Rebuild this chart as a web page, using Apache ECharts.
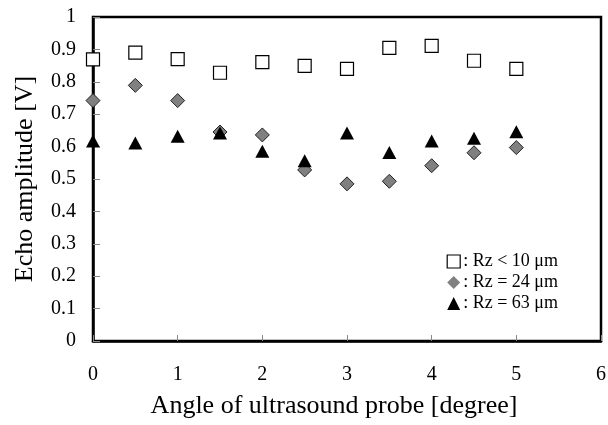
<!DOCTYPE html>
<html>
<head>
<meta charset="utf-8">
<script src="https://cdn.jsdelivr.net/npm/echarts@6/dist/echarts.min.js"></script>
<style>
html,body{margin:0;padding:0;background:#fff;}
#chart{width:608px;height:425px;}
</style>
</head>
<body>
<div id="chart"></div>
<script>
const angles = [0, 0.5, 1, 1.5, 2, 2.5, 3, 3.5, 4, 4.5, 5];
const rz10 = [0.869, 0.89, 0.87, 0.828, 0.861, 0.849, 0.84, 0.905, 0.911, 0.865, 0.84];
const rz24 = [0.742, 0.789, 0.742, 0.645, 0.636, 0.528, 0.485, 0.493, 0.541, 0.581, 0.597];
const rz63 = [0.617, 0.611, 0.632, 0.642, 0.586, 0.556, 0.642, 0.582, 0.617, 0.626, 0.646];
const seriesNames = [': Rz < 10 \u03bcm', ': Rz = 24 \u03bcm', ': Rz = 63 \u03bcm'];
const xTitle = 'Angle of ultrasound probe [degree]';
const yTitle = 'Echo amplitude [V]';

const pairs = arr => angles.map((a, i) => [a, arr[i]]);
const font = 'Liberation Serif';

const chart = echarts.init(document.getElementById('chart'), null, {renderer: 'canvas'});
chart.setOption({
  animation: false,
  backgroundColor: '#fff',
  grid: {left: 93, top: 17, right: 7, bottom: 84, containLabel: false, outerBoundsMode: 'none',
         show: true, borderColor: '#000', borderWidth: 2.5, backgroundColor: 'transparent'},
  legend: {
    orient: 'vertical', right: 50, top: 251, padding: 0, itemWidth: 13, itemHeight: 13, itemGap: 0,
    textStyle: {fontFamily: font, fontSize: 18, color: '#000', lineHeight: 21, padding: [0, 0, 0, -2]},
    data: [
      {name: seriesNames[0], itemStyle: {color: '#fff', borderColor: '#000', borderWidth: 1.2}},
      {name: seriesNames[1], itemStyle: {color: '#808080', borderColor: '#808080', borderWidth: 0}},
      {name: seriesNames[2]}
    ]
  },
  xAxis: {
    type: 'value', min: 0, max: 6, interval: 1,
    name: xTitle, nameLocation: 'middle', nameGap: 52,
    nameTextStyle: {fontFamily: font, fontSize: 26, color: '#000', padding: [0, 26, 0, 0]},
    axisLine: {show: true, lineStyle: {color: '#000', width: 2.5}},
    axisTick: {show: true, inside: true, length: 6, lineStyle: {color: '#888', width: 1}},
    axisLabel: {fontFamily: font, fontSize: 20, color: '#000', margin: 24},
    splitLine: {show: false}
  },
  yAxis: {
    type: 'value', min: 0, max: 1, interval: 0.1,
    name: yTitle, nameLocation: 'middle', nameGap: 55, nameRotate: 90,
    nameTextStyle: {fontFamily: font, fontSize: 26, color: '#000'},
    axisLine: {show: true, lineStyle: {color: '#000', width: 2.5}},
    axisTick: {show: true, inside: true, length: 7, lineStyle: {color: '#888', width: 1}},
    axisLabel: {fontFamily: font, fontSize: 20, color: '#000', margin: 17},
    splitLine: {show: false}
  },
  series: [
    {name: seriesNames[0], type: 'scatter', data: pairs(rz10), symbol: 'rect', symbolSize: 13,
     itemStyle: {color: '#fff', borderColor: '#000', borderWidth: 1.2, opacity: 1}},
    {name: seriesNames[1], type: 'scatter', data: pairs(rz24), symbol: 'diamond', symbolSize: 14,
     itemStyle: {color: '#808080', borderColor: '#222', borderWidth: 1, opacity: 1}},
    {name: seriesNames[2], type: 'scatter', data: pairs(rz63), symbol: 'triangle', symbolSize: [14, 13],
     itemStyle: {color: '#000', borderColor: '#000', borderWidth: 0, opacity: 1}}
  ]
});
</script>
</body>
</html>
